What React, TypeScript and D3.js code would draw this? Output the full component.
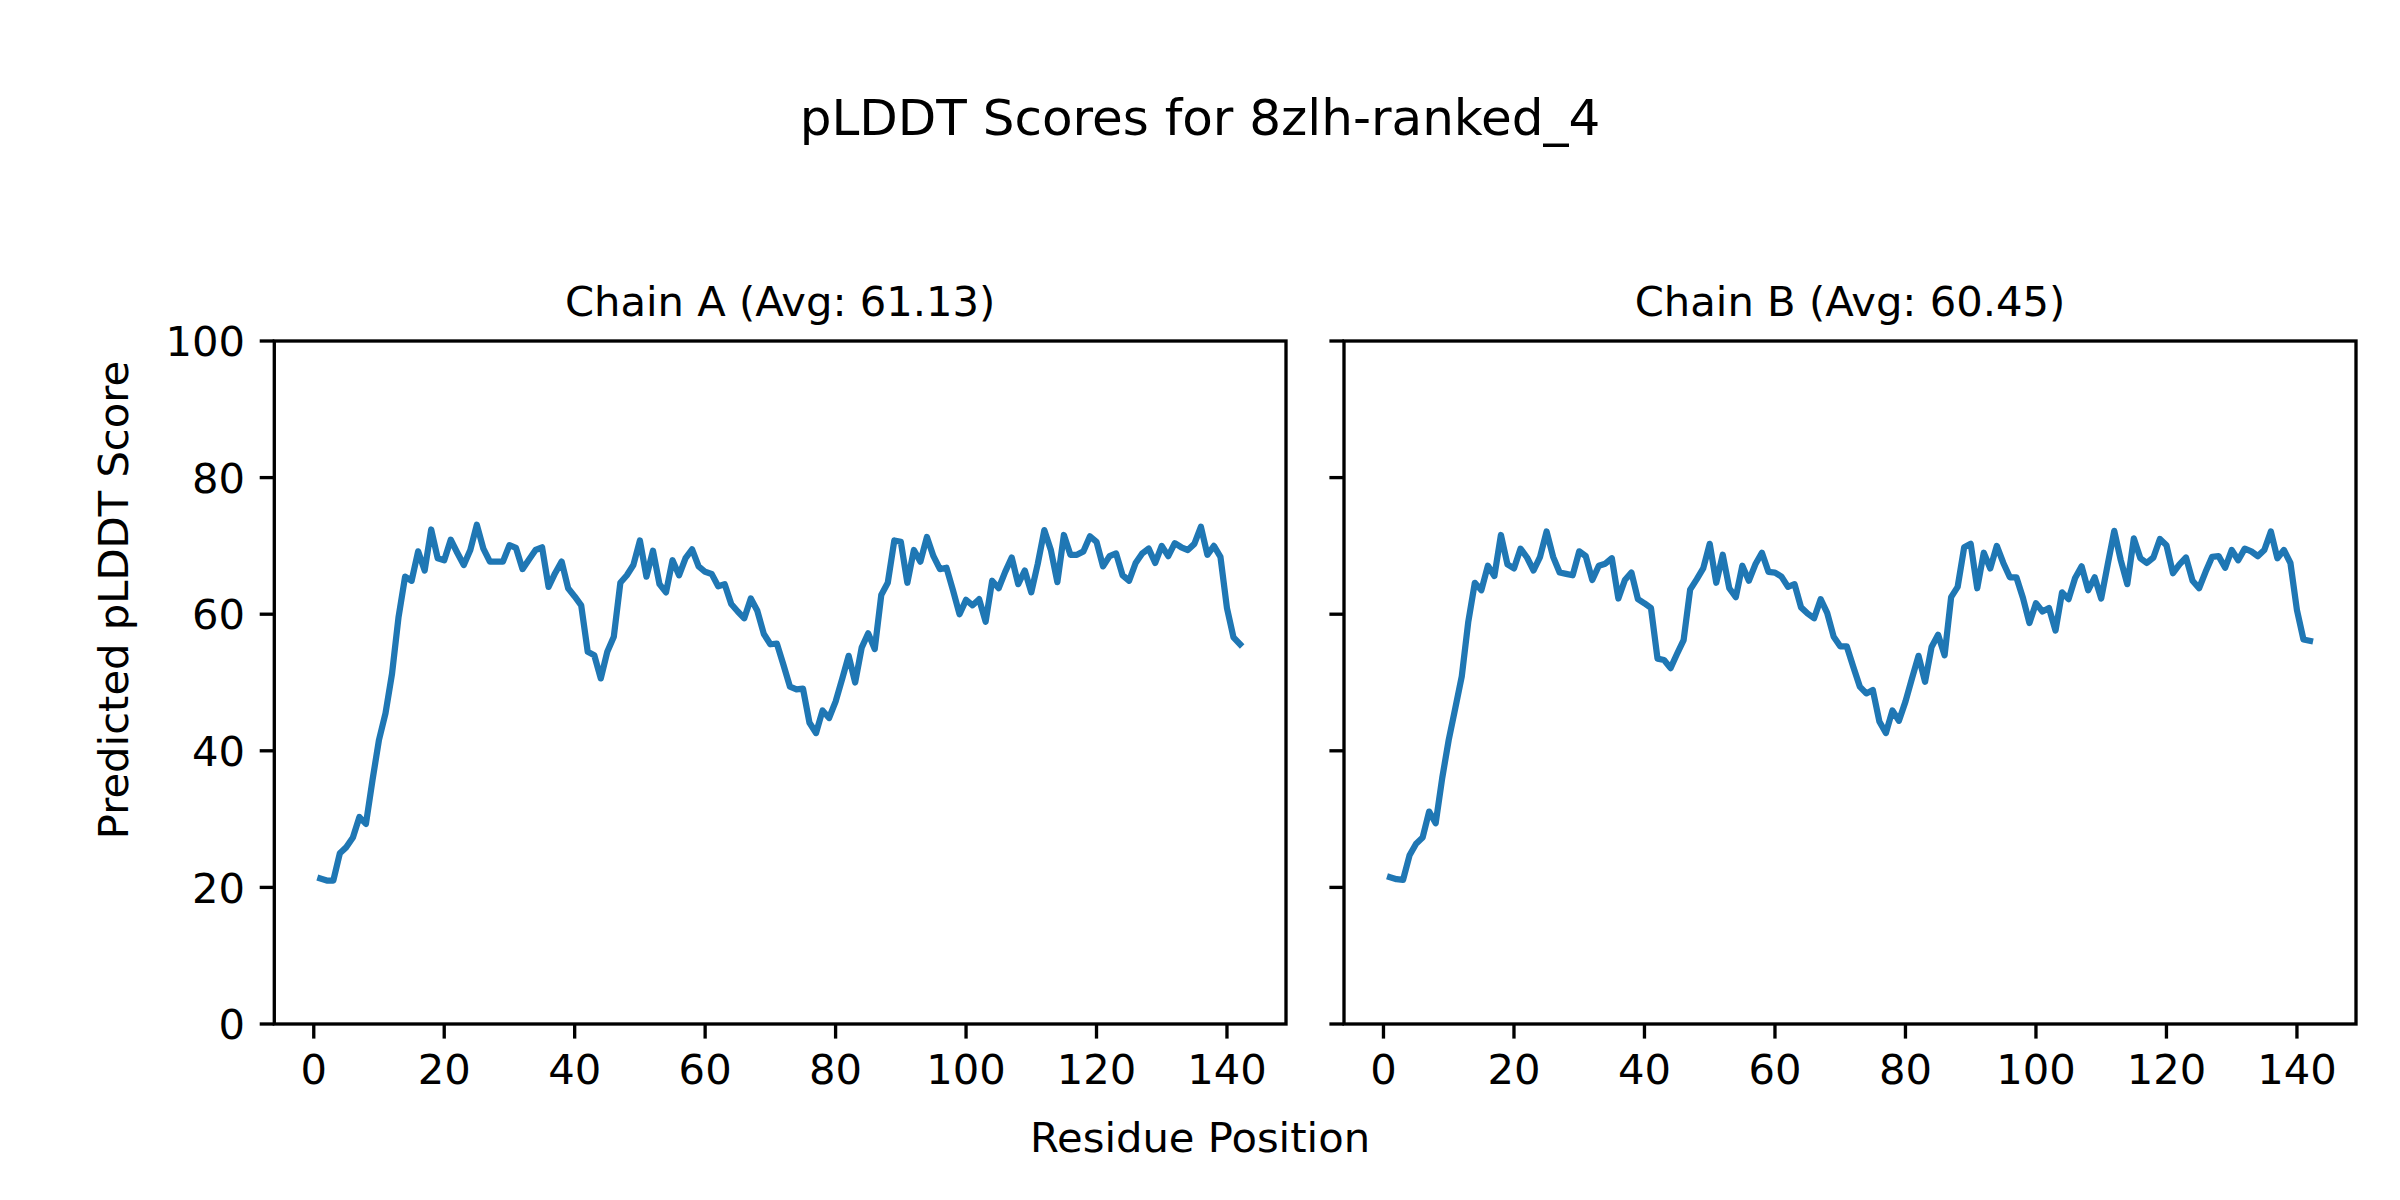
import React from "react";
import * as d3 from "d3";

const chainAScores = [
  21.3, 21.0, 21.0, 25.0, 25.9, 27.3, 30.3, 29.3, 35.7, 41.6,
  45.5, 51.3, 59.6, 65.5, 64.9, 69.2, 66.4, 72.4, 68.2, 67.9,
  70.9, 69.0, 67.2, 69.4, 73.1, 69.6, 67.7, 67.7, 67.7, 70.1,
  69.7, 66.6, 68.0, 69.4, 69.8, 64.0, 66.0, 67.7, 63.8, 62.6,
  61.3, 54.5, 54.0, 50.6, 54.5, 56.7, 64.6, 65.7, 67.2, 70.8,
  65.5, 69.3, 64.4, 63.2, 67.9, 65.7, 68.2, 69.5, 67.0, 66.2,
  65.9, 64.1, 64.4, 61.5, 60.4, 59.4, 62.3, 60.5, 57.1, 55.6,
  55.7, 52.6, 49.4, 49.0, 49.1, 44.1, 42.6, 45.9, 44.8, 47.2,
  50.5, 53.9, 50.0, 55.1, 57.2, 54.9, 62.8, 64.6, 70.8, 70.6,
  64.6, 69.4, 67.7, 71.3, 68.5, 66.6, 66.8, 63.5, 60.0, 62.1,
  61.3, 62.2, 58.9, 64.9, 63.8, 66.2, 68.3, 64.4, 66.4, 63.2,
  67.4, 72.3, 69.4, 64.7, 71.6, 68.7, 68.7, 69.2, 71.4, 70.6,
  67.0, 68.5, 68.9, 65.7, 64.9, 67.5, 68.9, 69.6, 67.5, 70.0,
  68.5, 70.4, 69.8, 69.4, 70.3, 72.8, 68.7, 70.0, 68.4, 60.9,
  56.6, 55.6,
];

const chainBScores = [
  21.5, 21.2, 21.1, 24.7, 26.4, 27.3, 31.1, 29.4, 36.0, 41.6,
  46.2, 50.9, 58.9, 64.6, 63.5, 67.1, 65.6, 71.6, 67.3, 66.7,
  69.6, 68.3, 66.4, 68.4, 72.1, 68.4, 66.1, 65.9, 65.7, 69.2,
  68.5, 65.0, 67.1, 67.4, 68.2, 62.3, 65.0, 66.1, 62.2, 61.6,
  60.9, 53.5, 53.3, 52.1, 54.2, 56.2, 63.6, 65.1, 66.7, 70.3,
  64.6, 68.7, 63.8, 62.5, 67.1, 64.9, 67.3, 69.0, 66.2, 66.1,
  65.5, 64.0, 64.4, 61.0, 60.1, 59.4, 62.2, 60.2, 56.7, 55.3,
  55.3, 52.3, 49.4, 48.4, 48.9, 44.3, 42.6, 45.9, 44.4, 47.2,
  50.6, 53.9, 50.1, 55.2, 57.0, 54.0, 62.5, 64.0, 69.8, 70.3,
  63.8, 69.0, 66.7, 70.0, 67.5, 65.4, 65.4, 62.4, 58.7, 61.6,
  60.4, 60.9, 57.6, 63.2, 62.2, 65.3, 67.0, 63.5, 65.4, 62.3,
  67.3, 72.2, 67.9, 64.4, 71.1, 68.2, 67.5, 68.3, 71.0, 70.1,
  66.0, 67.3, 68.3, 64.9, 63.8, 66.2, 68.4, 68.5, 66.8, 69.4,
  67.9, 69.6, 69.2, 68.5, 69.4, 72.1, 68.2, 69.4, 67.5, 60.6,
  56.3, 56.1,
];

const chainNames = ["A", "B"];
const chainAverages = ["61.13", "60.45"];
const xTicks = [0, 20, 40, 60, 80, 100, 120, 140];
const yTicks = [0, 20, 40, 60, 80, 100];

const W = 2400;
const H = 1200;
const top = 341;
const bottom = 1024;
const panels = [
  { left: 274.3, right: 1286 },
  { left: 1344, right: 2356 },
];
const fs = 41.7;
const tickLen = 14.6;
const lw = 3.33;
const font = "'DejaVu Sans', sans-serif";

const residues = d3.range(1, chainAScores.length + 1);
const xMargin = (residues[residues.length - 1] - residues[0]) * 0.05;

const y = d3.scaleLinear().domain([0, 100]).range([bottom, top]);

const Panel = ({ idx, scores }: { idx: number; scores: number[] }) => {
  const { left, right } = panels[idx];
  const x = d3
    .scaleLinear()
    .domain([residues[0] - xMargin, residues[residues.length - 1] + xMargin])
    .range([left, right]);
  const line = d3
    .line<number>()
    .x((_, i) => x(residues[i]))
    .y((d) => y(d));

  return (
    <g>
      <path
        d={line(scores) || ""}
        fill="none"
        stroke="#1f77b4"
        strokeWidth={6.25}
        strokeLinejoin="round"
        strokeLinecap="square"
      />
      <rect
        x={left}
        y={top}
        width={right - left}
        height={bottom - top}
        fill="none"
        stroke="#000"
        strokeWidth={lw}
        strokeLinejoin="miter"
      />
      {xTicks.map((t) => (
        <g key={"x" + t}>
          <line x1={x(t)} x2={x(t)} y1={bottom} y2={bottom + tickLen} stroke="#000" strokeWidth={lw} />
          <text x={x(t)} y={bottom + tickLen + 14.6 + 30.4} textAnchor="middle" fontSize={fs} fontFamily={font}>
            {t}
          </text>
        </g>
      ))}
      {yTicks.map((t) => (
        <g key={"y" + t}>
          <line x1={left - tickLen} x2={left} y1={y(t)} y2={y(t)} stroke="#000" strokeWidth={lw} />
          {idx === 0 && (
            <text x={left - tickLen - 14.6} y={y(t) + 15.2} textAnchor="end" fontSize={fs} fontFamily={font}>
              {t}
            </text>
          )}
        </g>
      ))}
      <text x={(left + right) / 2} y={316} textAnchor="middle" fontSize={fs} fontFamily={font}>
        {`Chain ${chainNames[idx]} (Avg: ${chainAverages[idx]})`}
      </text>
    </g>
  );
};

export default function App() {
  return (
    <div style={{ position: "absolute", left: 0, top: 0 }}>
      <svg width={W} height={H} style={{ display: "block", background: "#fff" }}>
        <rect width={W} height={H} fill="#fff" />
        <text x={W / 2} y={135} textAnchor="middle" fontSize={50} fontFamily={font}>
          pLDDT Scores for 8zlh-ranked_4
        </text>
        <Panel idx={0} scores={chainAScores} />
        <Panel idx={1} scores={chainBScores} />
        <text x={W / 2} y={1152} textAnchor="middle" fontSize={fs} fontFamily={font}>
          Residue Position
        </text>
        <text
          transform={`translate(128,600) rotate(-90)`}
          textAnchor="middle"
          fontSize={fs}
          fontFamily={font}
        >
          Predicted pLDDT Score
        </text>
      </svg>
    </div>
  );
}
